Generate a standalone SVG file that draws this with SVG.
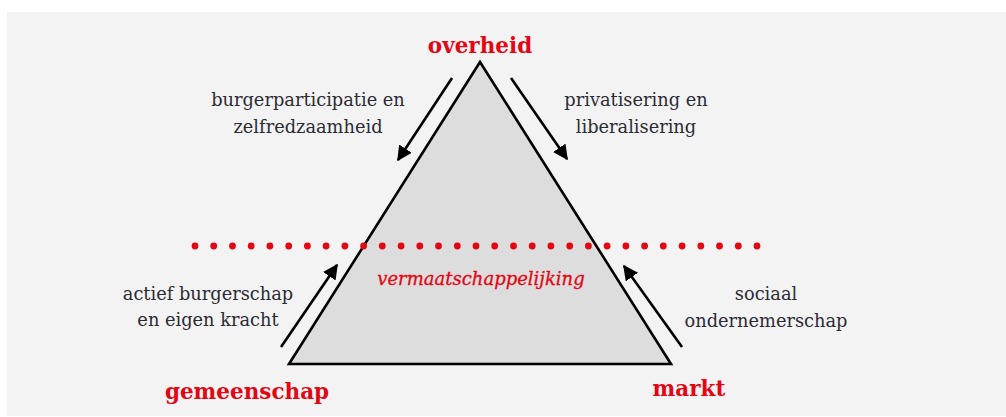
<svg xmlns="http://www.w3.org/2000/svg" width="1006" height="417" viewBox="0 0 1006 417">
  <style>
    .panel { fill: #f3f3f3; }
    .tri { fill: #dcdddc; stroke: #000; stroke-width: 2.6; stroke-linejoin: miter; }
    .arrow { stroke: #000; stroke-width: 2.6; fill: none; marker-end: url(#head); }
    .dot { fill: #e30613; }
    .label { font-family: "DejaVu Serif", "Liberation Serif", serif; font-size: 17.8px; fill: #2b2b33; text-anchor: middle; }
    .pole { font-family: "DejaVu Serif", "Liberation Serif", serif; font-size: 21.5px; font-weight: bold; fill: #e30613; text-anchor: middle; }
    .centre { font-family: "DejaVu Serif", "Liberation Serif", serif; font-size: 18px; font-style: italic; fill: #e30613; text-anchor: middle; stroke: #e30613; stroke-width: 0.3; }
  </style>
  <defs>
    <marker id="head" viewBox="0 0 10 10" refX="9" refY="5" markerWidth="5.8" markerHeight="5.8" markerUnits="strokeWidth" orient="auto">
      <path d="M0,0 L10,5 L0,10 Z" fill="#000"/>
    </marker>
  </defs>

  <rect class="panel" x="7" y="12" width="999" height="404"/>

  <!-- central triangle -->
  <g id="triangle">
    <polygon class="tri" points="480,62 289,364 671,364"/>
  </g>

  <!-- dotted divider line -->
  <g id="divider">
    <circle class="dot" cx="195.0" cy="246" r="3.4"/>
    <circle class="dot" cx="213.7" cy="246" r="3.4"/>
    <circle class="dot" cx="232.5" cy="246" r="3.4"/>
    <circle class="dot" cx="251.2" cy="246" r="3.4"/>
    <circle class="dot" cx="269.9" cy="246" r="3.4"/>
    <circle class="dot" cx="288.7" cy="246" r="3.4"/>
    <circle class="dot" cx="307.4" cy="246" r="3.4"/>
    <circle class="dot" cx="326.1" cy="246" r="3.4"/>
    <circle class="dot" cx="344.9" cy="246" r="3.4"/>
    <circle class="dot" cx="363.6" cy="246" r="3.4"/>
    <circle class="dot" cx="382.3" cy="246" r="3.4"/>
    <circle class="dot" cx="401.1" cy="246" r="3.4"/>
    <circle class="dot" cx="419.8" cy="246" r="3.4"/>
    <circle class="dot" cx="438.5" cy="246" r="3.4"/>
    <circle class="dot" cx="457.3" cy="246" r="3.4"/>
    <circle class="dot" cx="476.0" cy="246" r="3.4"/>
    <circle class="dot" cx="494.7" cy="246" r="3.4"/>
    <circle class="dot" cx="513.5" cy="246" r="3.4"/>
    <circle class="dot" cx="532.2" cy="246" r="3.4"/>
    <circle class="dot" cx="550.9" cy="246" r="3.4"/>
    <circle class="dot" cx="569.7" cy="246" r="3.4"/>
    <circle class="dot" cx="588.4" cy="246" r="3.4"/>
    <circle class="dot" cx="607.1" cy="246" r="3.4"/>
    <circle class="dot" cx="625.9" cy="246" r="3.4"/>
    <circle class="dot" cx="644.6" cy="246" r="3.4"/>
    <circle class="dot" cx="663.3" cy="246" r="3.4"/>
    <circle class="dot" cx="682.1" cy="246" r="3.4"/>
    <circle class="dot" cx="700.8" cy="246" r="3.4"/>
    <circle class="dot" cx="719.5" cy="246" r="3.4"/>
    <circle class="dot" cx="738.3" cy="246" r="3.4"/>
    <circle class="dot" cx="757.0" cy="246" r="3.4"/>
  </g>

  <!-- arrows along the triangle sides -->
  <g id="connectors">
    <line class="arrow" x1="452" y1="78" x2="398" y2="160"/>
    <line class="arrow" x1="511" y1="78" x2="567" y2="159"/>
    <line class="arrow" x1="281" y1="347" x2="337" y2="265"/>
    <line class="arrow" x1="682" y1="347" x2="624" y2="266"/>
  </g>

  <!-- corner labels -->
  <g id="node-overheid">
    <text class="pole" x="480" y="53">overheid</text>
  </g>
  <g id="node-gemeenschap">
    <text class="pole" x="247" y="399">gemeenschap</text>
  </g>
  <g id="node-markt">
    <text class="pole" x="689" y="396">markt</text>
  </g>
  <g id="node-centre">
    <text class="centre" x="481" y="285">vermaatschappelijking</text>
  </g>

  <!-- arrow captions -->
  <g id="label-top-left">
    <text class="label" x="308" y="106">burgerparticipatie en</text>
    <text class="label" x="308" y="133">zelfredzaamheid</text>
  </g>
  <g id="label-top-right">
    <text class="label" x="636" y="106">privatisering en</text>
    <text class="label" x="636" y="133">liberalisering</text>
  </g>
  <g id="label-bottom-left">
    <text class="label" x="208" y="300">actief burgerschap</text>
    <text class="label" x="208" y="326">en eigen kracht</text>
  </g>
  <g id="label-bottom-right">
    <text class="label" x="766" y="300">sociaal</text>
    <text class="label" x="766" y="327">ondernemerschap</text>
  </g>
</svg>
